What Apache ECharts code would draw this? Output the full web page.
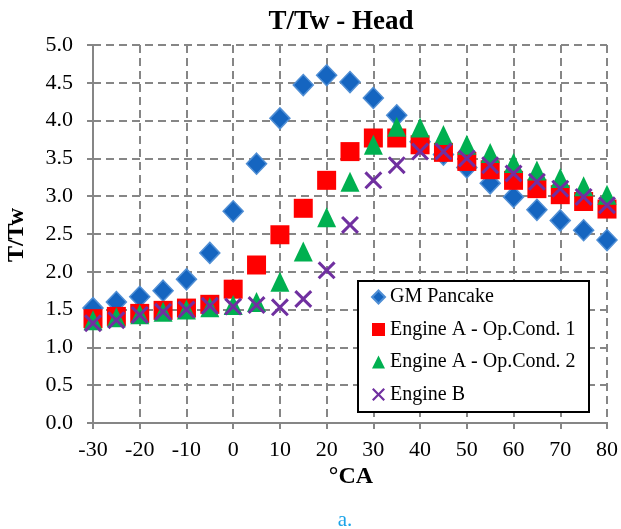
<!DOCTYPE html>
<html><head><meta charset="utf-8">
<script src="https://cdn.jsdelivr.net/npm/echarts@6/dist/echarts.min.js"></script>
<style>html,body{margin:0;padding:0;background:#fff}#c{width:621px;height:529px}</style>
</head><body><div id="c"></div>
<script>
const crankAngles = [-30,-25,-20,-15,-10,-5,0,5,10,15,20,25,30,35,40,45,50,55,60,65,70,75,80];
const gmPancake   = [1.52,1.60,1.67,1.75,1.90,2.25,2.80,3.43,4.03,4.47,4.60,4.51,4.30,4.07,3.72,3.55,3.38,3.17,2.99,2.82,2.68,2.55,2.42];
const engineAOp1  = [1.38,1.41,1.45,1.49,1.52,1.57,1.77,2.09,2.49,2.84,3.21,3.59,3.77,3.77,3.68,3.58,3.46,3.35,3.21,3.10,3.02,2.93,2.83];
const engineAOp2  = [1.36,1.40,1.44,1.47,1.50,1.53,1.56,1.60,1.87,2.27,2.72,3.19,3.68,3.92,3.91,3.81,3.68,3.57,3.44,3.34,3.24,3.13,3.02];
const engineB     = [1.32,1.36,1.43,1.47,1.50,1.55,1.54,1.56,1.53,1.64,2.02,2.62,3.21,3.41,3.59,3.59,3.50,3.41,3.30,3.19,3.10,2.99,2.88];
const seriesNames = ['GM Pancake','Engine A - Op.Cond. 1','Engine A - Op.Cond. 2','Engine B'];
const xTicks = {min:-30, max:80, interval:10};
const yTicks = {min:0, max:5, interval:0.5};

const pair = arr => crankAngles.map((x,i)=>[x,arr[i]]);
const crossPath = 'path://M0,1.2L1.2,0L5,3.8L8.8,0L10,1.2L6.2,5L10,8.8L8.8,10L5,6.2L1.2,10L0,8.8L3.8,5Z';
const serif = '"Liberation Serif", "DejaVu Serif", serif';
const grey = '#868686';

const chart = echarts.init(document.getElementById('c'), null, {renderer:'canvas'});
chart.setOption({
  animation:false,
  backgroundColor:'#fff',
  grid:{left:93, right:11, top:45, bottom:106, containLabel:false},
  xAxis:{type:'value', min:xTicks.min, max:xTicks.max, interval:xTicks.interval,
    axisLine:{show:true, onZero:false, lineStyle:{color:grey, width:2}},
    axisTick:{show:true, length:6, lineStyle:{color:grey, width:2}},
    axisLabel:{fontFamily:serif, fontSize:22, color:'#000', margin:16},
    splitLine:{show:true, lineStyle:{color:grey, width:2, type:[8,5]}}},
  yAxis:{type:'value', min:yTicks.min, max:yTicks.max, interval:yTicks.interval,
    axisLine:{show:true, onZero:false, lineStyle:{color:grey, width:2}},
    axisTick:{show:true, length:6, lineStyle:{color:grey, width:2}},
    axisLabel:{fontFamily:serif, fontSize:22, color:'#000', margin:20, formatter:v=>v.toFixed(1)},
    splitLine:{show:true, lineStyle:{color:grey, width:2, type:[8,5]}}},
  legend:{orient:'vertical', left:367, top:285, z:20, itemWidth:13, itemHeight:13, itemGap:12.5,
    padding:[2,4,2,4],
    textStyle:{fontFamily:serif, fontSize:20, color:'#000', lineHeight:20},
    data:seriesNames},
  graphic:[
    {type:'rect', z:15, shape:{x:358, y:281, width:231, height:131}, style:{fill:'#fff', stroke:'#000', lineWidth:2}},
    {type:'text', z:20, style:{text:'T/Tw - Head', x:341, y:22, textAlign:'center', textVerticalAlign:'middle', font:'bold 27px '+serif, fill:'#000'}},
    {type:'text', z:20, rotation:Math.PI/2, x:17, y:235, style:{text:'T/Tw', x:0, y:0, textAlign:'center', textVerticalAlign:'middle', font:'bold 24px '+serif, fill:'#000'}},
    {type:'text', z:20, style:{text:'°CA', x:351, y:477, textAlign:'center', textVerticalAlign:'middle', font:'bold 24px '+serif, fill:'#000'}},
    {type:'text', z:20, style:{text:'a.', x:345, y:520, textAlign:'center', textVerticalAlign:'middle', font:'21px '+serif, fill:'#1aa3e8'}}
  ],
  series:[
    {name:seriesNames[0], type:'scatter', data:pair(gmPancake), symbol:'diamond', symbolSize:[20,21], z:2,
      itemStyle:{color:'#1565c0', borderColor:'#4f8ed4', borderWidth:1.5, opacity:1}},
    {name:seriesNames[1], type:'scatter', data:pair(engineAOp1), symbol:'rect', symbolSize:19, z:3,
      itemStyle:{color:'#ff0000', opacity:1}},
    {name:seriesNames[2], type:'scatter', data:pair(engineAOp2), symbol:'triangle', symbolSize:[19,20], z:4,
      itemStyle:{color:'#00b050', opacity:1}},
    {name:seriesNames[3], type:'scatter', data:pair(engineB), symbol:crossPath, symbolSize:18, z:5,
      itemStyle:{color:'#7030a0', opacity:1}}
  ]
});
</script></body></html>
